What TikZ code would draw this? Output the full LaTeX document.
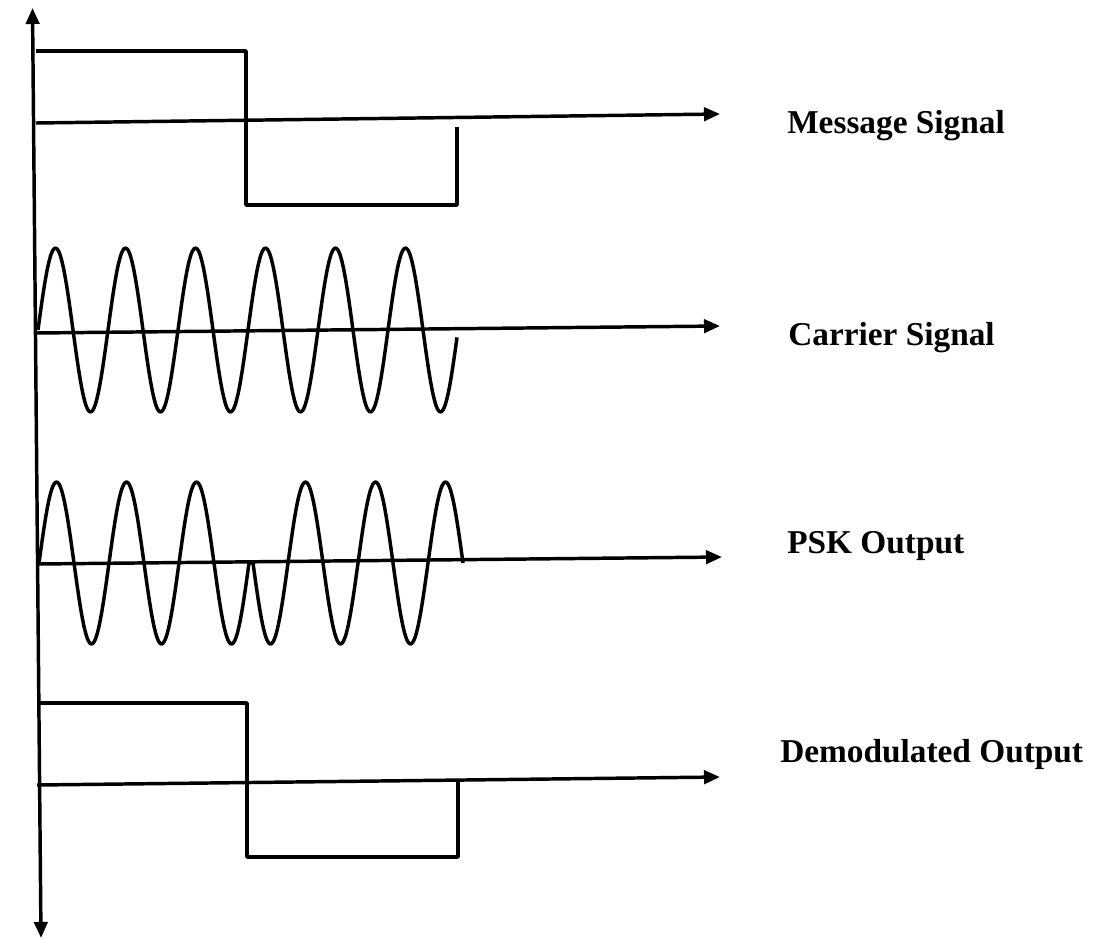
\documentclass[tikz,border=0pt]{standalone}
\usepackage{fontspec}
\setmainfont{Liberation Serif}
\usetikzlibrary{arrows.meta}
\begin{document}
\begin{tikzpicture}[x=0.75pt,y=-0.75pt,
  sig/.style={line width=2.6pt,line join=round},
  axisline/.style={line width=2.6pt,-{Triangle[length=12pt,width=10pt]}},
  vaxis/.style={line width=2.6pt,{Triangle[length=12pt,width=10pt]}-{Triangle[length=12pt,width=10pt]}},
  lbl/.style={anchor=base west,inner sep=0pt,font=\fontsize{25}{29}\selectfont\bfseries}]
\useasboundingbox (0,0) rectangle (1094,939);
% vertical axis
\coordinate (vtop) at (32.5,8);
\coordinate (vbot) at (41,938);
\draw[vaxis] (vtop) -- (vbot);
% message signal
\coordinate (m0) at (36,123);
\coordinate (m1) at (720,114);
\draw[axisline] (m0) -- (m1);
\draw[sig] (36,51) -- (246,51) -- (246,205) -- (457,205) -- (457,127);
\node[lbl] (lm) at (787,133) {Message Signal};
% carrier
\coordinate (c0) at (36,333);
\coordinate (c1) at (720,326);
\draw[axisline] (c0) -- (c1);
\draw[sig] plot[domain=38:457,samples=240,smooth] (\x,{330-82*sin(((\x-38)/70)*360)});
\node[lbl] (lc) at (788,345) {Carrier Signal};
% PSK
\coordinate (p0) at (37,564);
\coordinate (p1) at (722,557);
\draw[axisline] (p0) -- (p1);
\draw[sig] plot[domain=39:249,samples=150,smooth] (\x,{563-81*sin(((\x-39)/70)*360)})
  -- plot[domain=253:463,samples=150,smooth] (\x,{563+81*sin(((\x-253)/70)*360)});
\node[lbl] (lp) at (787,553) {PSK Output};
% demodulated
\coordinate (d0) at (37,785);
\coordinate (d1) at (720,777);
\draw[axisline] (d0) -- (d1);
\draw[sig] (40,703) -- (247,703) -- (247,857) -- (458,857) -- (458,781);
\node[lbl] (ld) at (780,762) {Demodulated Output};
\end{tikzpicture}
\end{document}
